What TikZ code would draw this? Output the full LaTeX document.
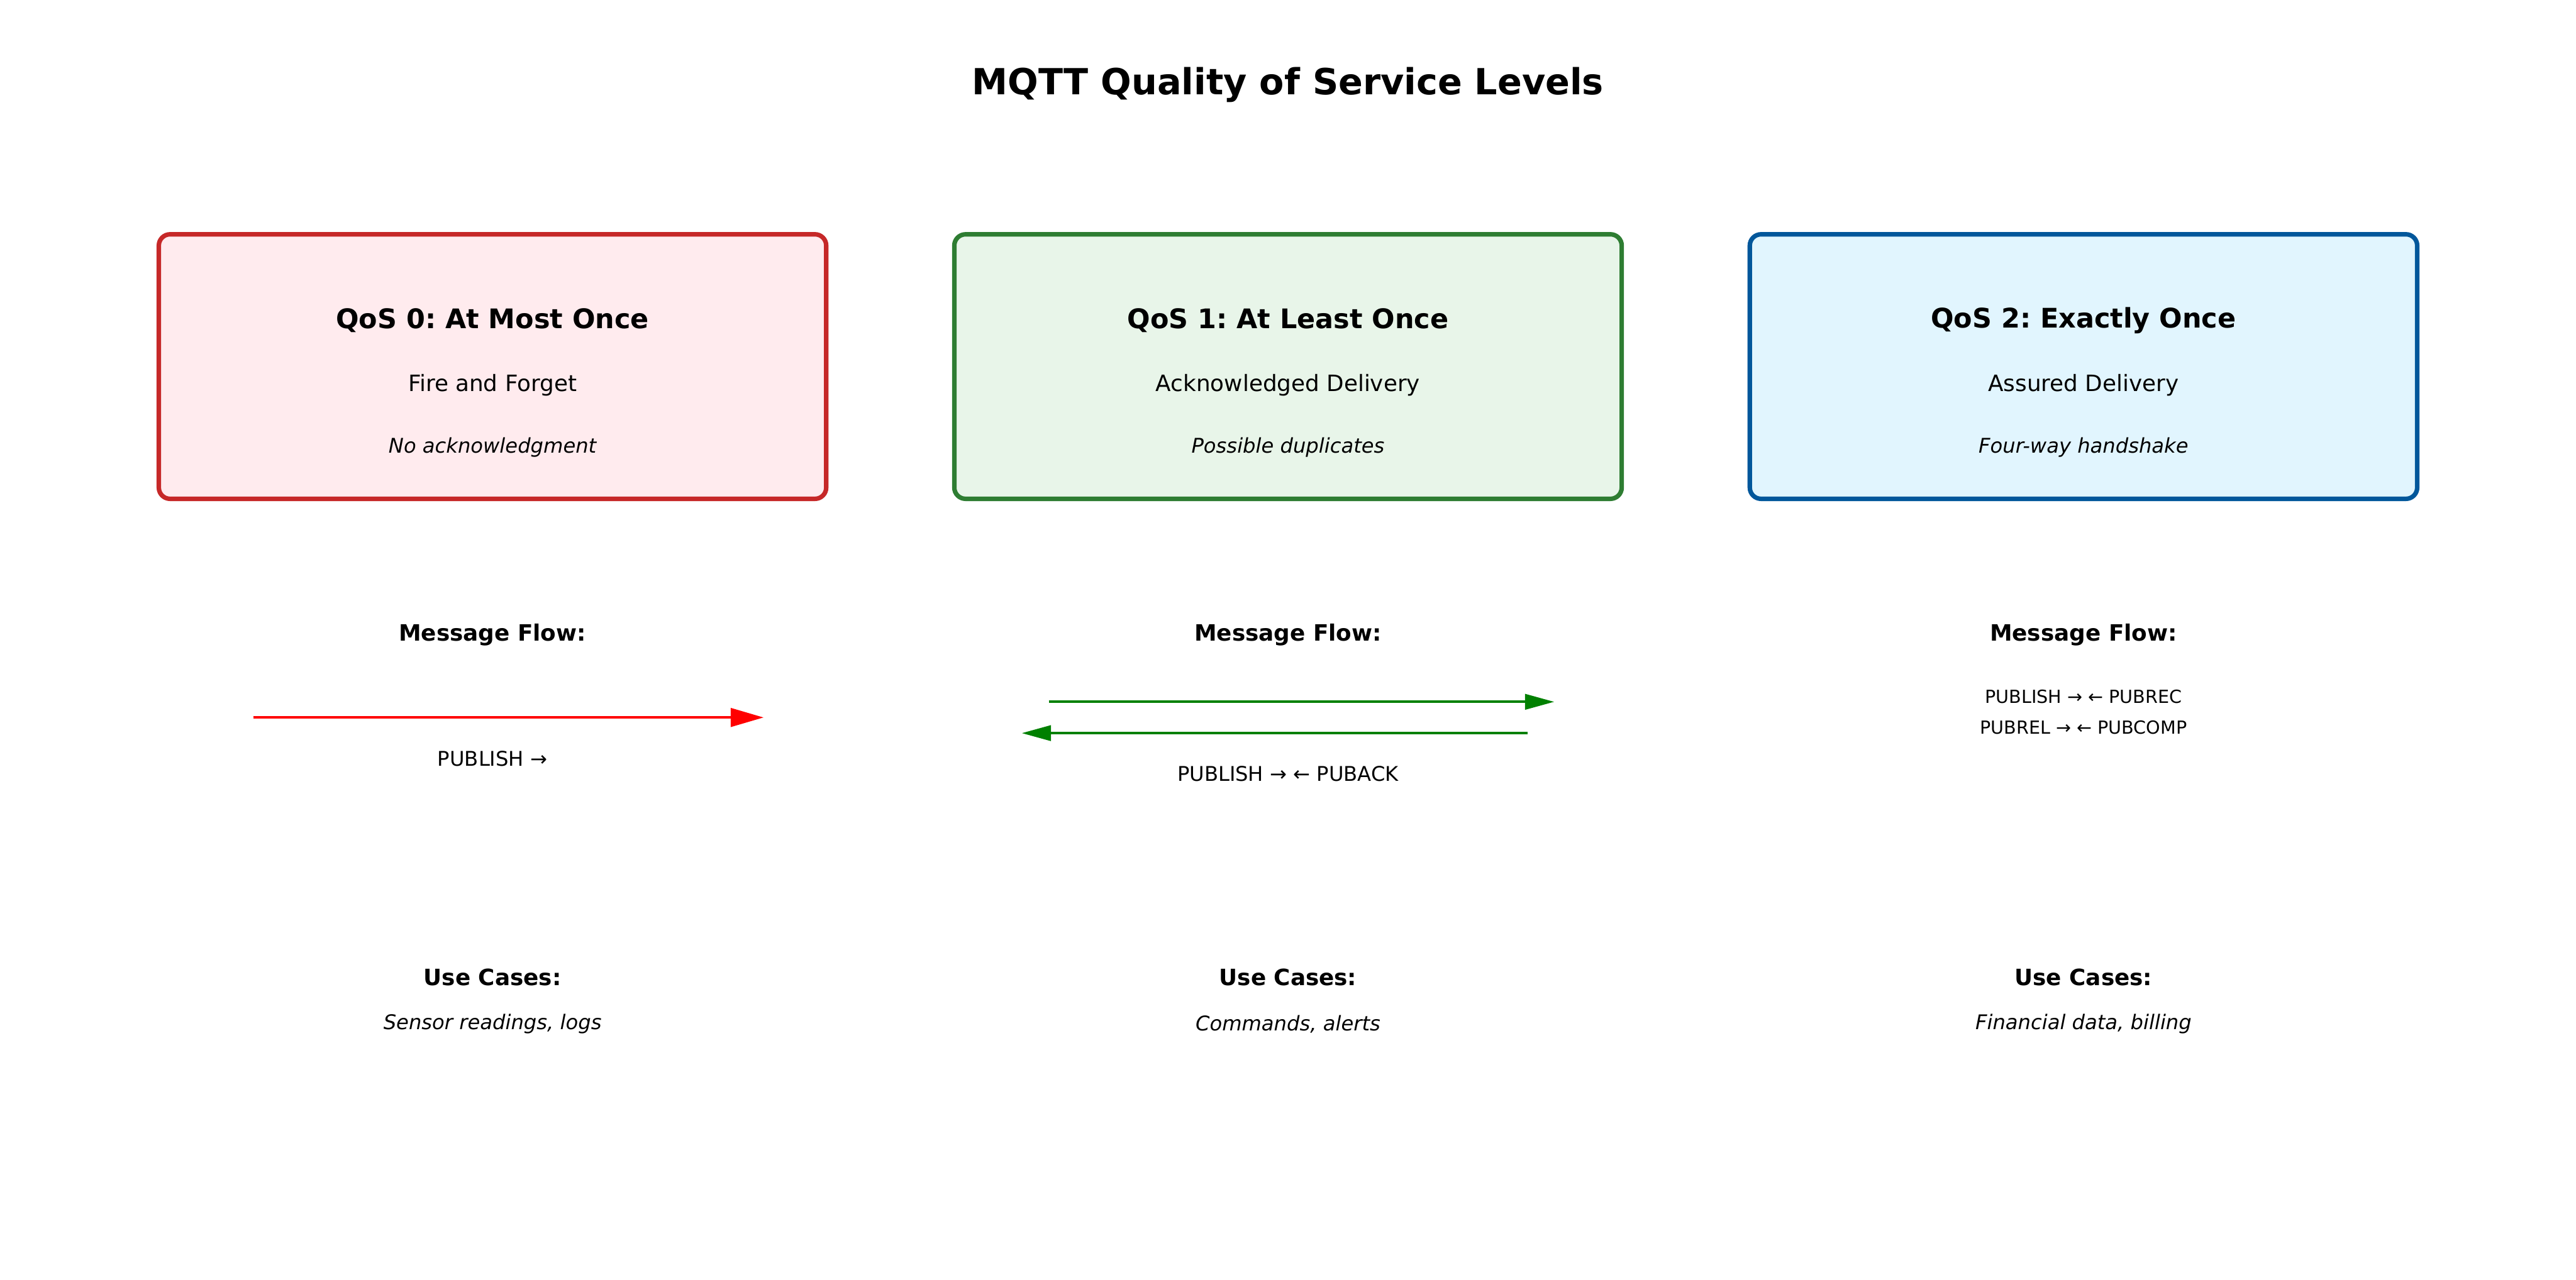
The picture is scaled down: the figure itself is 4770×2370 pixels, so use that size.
\documentclass[tikz,border=0pt]{standalone}
\usepackage{fontspec}
\setmainfont{DejaVu Sans}
\usetikzlibrary{arrows.meta}
\frenchspacing
\definecolor{redB}{HTML}{C62828}\definecolor{redF}{HTML}{FFEBEE}
\definecolor{greenB}{HTML}{2E7D32}\definecolor{greenF}{HTML}{E8F5E9}
\definecolor{blueB}{HTML}{01579B}\definecolor{blueF}{HTML}{E1F5FE}
\definecolor{arrred}{HTML}{FF0000}\definecolor{arrgreen}{HTML}{008000}
\begin{document}
\begin{tikzpicture}[x=0.24pt,y=-0.24pt,
  qosbox/.style={draw, line width=2pt, rounded corners=5pt, minimum width=296.6pt, minimum height=117.6pt, inner sep=0pt},
  txt/.style={inner sep=0pt, anchor=center, execute at begin node=\frenchspacing},
  maintitle/.style={txt, font=\fontsize{16}{19}\selectfont\bfseries},
  boxtitle/.style={txt, font=\fontsize{12}{14}\selectfont\bfseries},
  boxsub/.style={txt, font=\fontsize{10}{12}\selectfont},
  boxnote/.style={txt, font=\fontsize{9}{11}\selectfont\itshape},
  head/.style={txt, font=\fontsize{10}{12}\selectfont\bfseries},
  flowlbl/.style={txt, font=\fontsize{9}{11}\selectfont},
  flowsmall/.style={txt, font=\fontsize{8}{10}\selectfont},
  usecase/.style={txt, font=\fontsize{9}{11}\selectfont\itshape},
  redarrow/.style={draw=arrred, line width=1.2pt, -{Triangle[length=14.6pt,width=8.2pt]}},
  greenarrow/.style={draw=arrgreen, line width=1.15pt, -{Triangle[length=13pt,width=6.8pt]}}
]
\useasboundingbox (0,0) rectangle (4770,2370);
\fill[white] (0,0) rectangle (4770,2370);

\node[maintitle] (title) at (2385,157) {MQTT Quality of Service Levels};

% boxes
\node[qosbox, draw=redB, fill=redF] (b0) at (912,679) {};
\node[qosbox, draw=greenB, fill=greenF] (b1) at (2385,679) {};
\node[qosbox, draw=blueB, fill=blueF] (b2) at (3858,679) {};

\node[boxtitle] (t0) at (912,594) {QoS 0: At Most Once};
\node[boxsub] (s0) at (912,713) {Fire and Forget};
\node[boxnote] (n0) at (912,829) {No acknowledgment};

\node[boxtitle] (t1) at (2385,594) {QoS 1: At Least Once};
\node[boxsub] (s1) at (2385,713) {Acknowledged Delivery};
\node[boxnote] (n1) at (2385,829) {Possible duplicates};

\node[boxtitle] (t2) at (3858,594) {QoS 2: Exactly Once};
\node[boxsub] (s2) at (3858,713) {Assured Delivery};
\node[boxnote] (n2) at (3858,829) {Four-way handshake};

% message flow
\node[head] (m0) at (912,1176) {Message Flow:};
\node[head] (m1) at (2385,1176) {Message Flow:};
\node[head] (m2) at (3858,1176) {Message Flow:};

\coordinate (r0a) at (469,1329);
\coordinate (r0b) at (1414,1329);
\draw[redarrow] (r0a) -- (r0b);
\node[flowlbl] (f0) at (912,1405) {PUBLISH →};

\coordinate (g1a) at (1942,1300);
\coordinate (g1b) at (2878,1300);
\coordinate (g2a) at (2829,1358);
\coordinate (g2b) at (1892,1358);
\draw[greenarrow] (g1a) -- (g1b);
\draw[greenarrow] (g2a) -- (g2b);
\node[flowlbl] (f1) at (2385,1433) {PUBLISH → ← PUBACK};

\node[flowsmall] (f2a) at (3858,1290) {PUBLISH → ← PUBREC};
\node[flowsmall] (f2b) at (3858,1348) {PUBREL → ← PUBCOMP};

% use cases
\node[head] (u0) at (912,1810) {Use Cases:};
\node[head] (u1) at (2385,1810) {Use Cases:};
\node[head] (u2) at (3858,1810) {Use Cases:};
\node[usecase] (c0) at (912,1897) {Sensor readings, logs};
\node[usecase] (c1) at (2385,1897) {Commands, alerts};
\node[usecase] (c2) at (3858,1897) {Financial data, billing};
\end{tikzpicture}
\end{document}
